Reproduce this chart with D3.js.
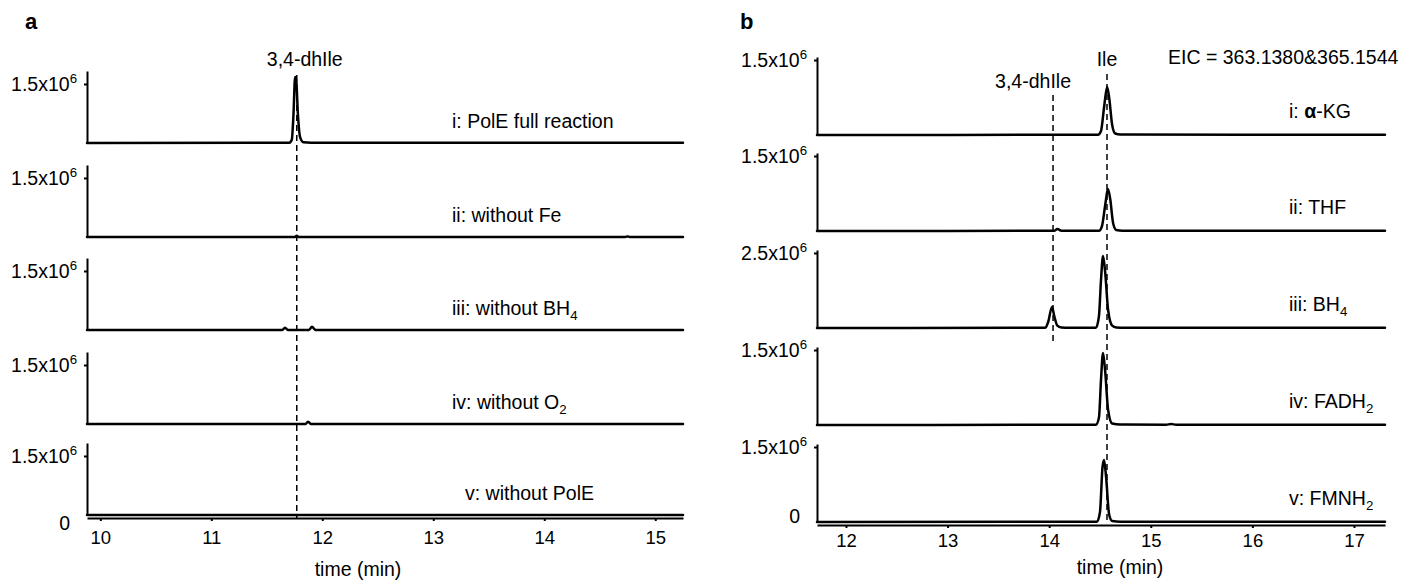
<!DOCTYPE html>
<html>
<head>
<meta charset="utf-8">
<title>EIC traces</title>
<style>
  body { margin: 0; background: #fff; }
  svg { display: block; font-family: "Liberation Sans", Arial, Helvetica, sans-serif; }
  .trace { fill: none; stroke: #000; stroke-width: 2.5; stroke-linejoin: round; stroke-linecap: round; }
  .axis path, .axis line { stroke: #000; stroke-width: 2; }
  .marker { stroke: #000; stroke-width: 1.5; stroke-dasharray: 6 4; }
</style>
</head>
<body>
<div id="chart"></div>
<script src="https://d3js.org/d3.v7.min.js"></script>
<script>
var width = 1403;
var height = 581;

// time in min, intensity in units of 1e6
var aTimeDomain = [9.88, 15.25];
var aTicks = [10, 11, 12, 13, 14, 15];
var aYMax = [1.83, 1.83, 1.83, 1.83, 1.83];
var aYTick = [1.5, 1.5, 1.5, 1.5, 1.5];
var aLabels = [
  [{t: "i: PolE full reaction"}],
  [{t: "ii: without Fe"}],
  [{t: "iii: without BH"}, {t: "4", sub: true}],
  [{t: "iv: without O"}, {t: "2", sub: true}],
  [{t: "v: without PolE"}]
];
var aTraces = [
  [[9.88, 0], [11.70, 0.005], [11.725, 0.08], [11.74, 0.7], [11.755, 1.68], [11.765, 1.6], [11.78, 0.75], [11.80, 0.15], [11.83, 0.02], [11.9, 0.008], [15.25, 0.005]],
  [[9.88, 0], [11.75, 0], [11.77, 0.03], [11.79, 0], [14.73, 0], [14.75, 0.015], [14.77, 0], [15.25, 0]],
  [[9.88, 0], [11.64, 0], [11.664, 0.06], [11.69, 0], [11.88, 0], [11.907, 0.08], [11.94, 0], [15.25, 0]],
  [[9.88, 0], [11.85, 0], [11.871, 0.06], [11.90, 0], [15.25, 0]],
  [[9.88, 0], [15.25, 0]]
];
var aMarkers = [{name: "3,4-dhIle", t: 11.77}];

var bTimeDomain = [11.715, 17.305];
var bTicks = [12, 13, 14, 15, 16, 17];
var bYMax = [1.56, 1.56, 2.6, 1.56, 1.56];
var bYTick = [1.5, 1.5, 2.5, 1.5, 1.5];
var bLabels = [
  [{t: "i: "}, {t: "α", bold: true}, {t: "-KG"}],
  [{t: "ii: THF"}],
  [{t: "iii: BH"}, {t: "4", sub: true}],
  [{t: "iv: FADH"}, {t: "2", sub: true}],
  [{t: "v: FMNH"}, {t: "2", sub: true}]
];
var bTraces = [
  [[11.715, 0], [14.48, 0.005], [14.51, 0.08], [14.54, 0.55], [14.57, 0.96], [14.59, 0.75], [14.62, 0.2], [14.65, 0.03], [14.70, 0.01], [17.305, 0.005]],
  [[11.715, 0], [14.05, 0.005], [14.08, 0.04], [14.12, 0.005], [14.49, 0.005], [14.52, 0.1], [14.55, 0.5], [14.578, 0.84], [14.60, 0.65], [14.63, 0.15], [14.66, 0.02], [14.72, 0.005], [17.305, 0.005]],
  [[11.715, 0], [13.96, 0.005], [13.99, 0.2], [14.028, 0.70], [14.05, 0.4], [14.08, 0.08], [14.12, 0.02], [14.20, 0.005], [14.46, 0.01], [14.49, 0.4], [14.51, 1.6], [14.53, 2.4], [14.55, 1.9], [14.58, 0.6], [14.62, 0.08], [14.66, 0.02], [14.75, 0.005], [17.305, 0.005]],
  [[11.715, 0], [14.46, 0.005], [14.49, 0.15], [14.51, 0.9], [14.53, 1.44], [14.55, 1.1], [14.58, 0.3], [14.62, 0.03], [14.70, 0.01], [15.15, 0.005], [15.2, 0.02], [15.25, 0.005], [17.305, 0.005]],
  [[11.715, 0], [14.47, 0.005], [14.50, 0.2], [14.525, 1.1], [14.54, 1.24], [14.56, 0.9], [14.59, 0.15], [14.62, 0.02], [14.70, 0.005], [17.305, 0.005]]
];
var bMarkers = [{name: "3,4-dhIle", t: 14.038}, {name: "Ile", t: 14.569}];

var svg = d3.select("#chart").append("svg")
  .attr("width", width)
  .attr("height", height);

function addRich(sel, parts, size) {
  parts.forEach(function(p) {
    var ts = sel.append("tspan").text(p.t);
    if (p.bold) ts.attr("font-weight", "bold");
    if (p.sub) ts.attr("font-size", size * 0.68).attr("dy", 5);
    if (p.sup) ts.attr("font-size", size * 0.68).attr("dy", -8);
  });
}

function drawPanel(o) {
  var x = d3.scaleLinear().domain(o.domain).range([o.left, o.right]);
  var g = svg.append("g");

  g.append("text")
    .attr("x", o.letterX).attr("y", 29)
    .attr("font-size", 22).attr("font-weight", "bold")
    .text(o.letter);

  // dashed retention-time markers (behind traces)
  o.markers.forEach(function(m, i) {
    var mk = o.markerLayout[i];
    g.append("line").attr("class", "marker")
      .attr("x1", x(m.t)).attr("x2", x(m.t))
      .attr("y1", mk.y1).attr("y2", mk.y2);
    g.append("text")
      .attr("x", x(m.t) + mk.dx).attr("y", mk.ty)
      .attr("text-anchor", "middle").attr("font-size", 19.5)
      .text(m.name);
  });

  var line = d3.line().curve(d3.curveMonotoneX);

  o.traces.forEach(function(tr, i) {
    var base = o.baselines[i];
    var y = d3.scaleLinear().domain([0, o.yMax[i]]).range([base, base - o.rowH]);

    g.append("g").attr("class", "axis")
      .attr("transform", "translate(" + o.left + ",0)")
      .call(d3.axisLeft(y).tickValues([o.yTick[i]]).tickSize(3).tickSizeOuter(0).tickFormat(""));

    var lab = g.append("text")
      .attr("x", o.left - 10).attr("y", y(o.yTick[i]))
      .attr("dy", "0.35em")
      .attr("text-anchor", "end").attr("font-size", 19.5);
    addRich(lab, [{t: o.yTick[i] + "x10"}, {t: "6", sup: true}], 19.5);

    line.x(function(d) { return x(d[0]); }).y(function(d) { return y(d[1]); });
    g.append("path").attr("class", "trace").attr("d", line(tr));

    var rl = g.append("text")
      .attr("x", o.labelX[i]).attr("y", base - o.labelUp)
      .attr("font-size", 19.5);
    addRich(rl, o.labels[i], 19.5);

    if (i === o.traces.length - 1) {
      g.append("text")
        .attr("x", o.left - 17).attr("y", base + o.zeroDy)
        .attr("text-anchor", "end").attr("font-size", 19.5)
        .text("0");
    }
  });

  var lastBase = o.baselines[o.baselines.length - 1];
  var xAxis = g.append("g").attr("class", "axis")
    .attr("transform", "translate(0," + (lastBase + 3) + ")")
    .call(d3.axisBottom(x).tickValues(o.ticks).tickSize(3).tickSizeOuter(0)
      .tickPadding(o.tickPad).tickFormat(d3.format("d")));
  xAxis.selectAll("text").attr("font-size", 18.5).attr("font-family", null);
  xAxis.select(".domain").attr("stroke-width", 2.5);

  g.append("text")
    .attr("x", o.titleX).attr("y", o.titleY)
    .attr("text-anchor", "middle").attr("font-size", 19.5)
    .text("time (min)");
}

drawPanel({
  letter: "a", letterX: 25,
  domain: aTimeDomain, left: 87, right: 683,
  baselines: [143, 237, 330, 424, 515], rowH: 72,
  yMax: aYMax, yTick: aYTick, traces: aTraces, labels: aLabels,
  labelX: [452, 452, 452, 452, 465], labelUp: 15,
  ticks: aTicks, tickPad: 10, zeroDy: 15,
  markers: aMarkers,
  markerLayout: [{y1: 75, y2: 518, ty: 66, dx: 8}],
  titleX: 358, titleY: 576
});

drawPanel({
  letter: "b", letterX: 740,
  domain: bTimeDomain, left: 817, right: 1385,
  baselines: [135, 231, 328, 425, 522], rowH: 78,
  yMax: bYMax, yTick: bYTick, traces: bTraces, labels: bLabels,
  labelX: [1289, 1289, 1289, 1289, 1289], labelUp: 17,
  ticks: bTicks, tickPad: 6, zeroDy: 1,
  markers: bMarkers,
  markerLayout: [{y1: 95, y2: 343, ty: 88, dx: -20}, {y1: 74, y2: 522, ty: 66, dx: 0}],
  titleX: 1120, titleY: 574
});

svg.append("text")
  .attr("x", 1168).attr("y", 64)
  .attr("font-size", 19.5)
  .text("EIC = 363.1380&365.1544");
</script>
</body>
</html>
